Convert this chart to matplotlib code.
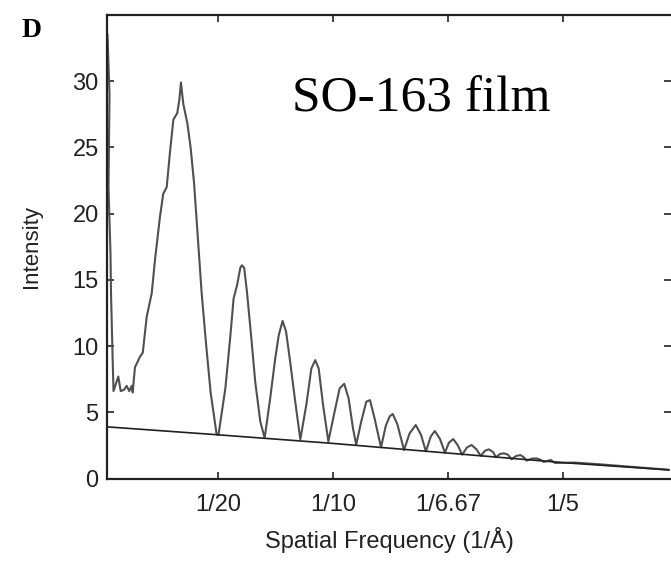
import matplotlib.pyplot as plt

# measured spectrum (spatial frequency in 1/A, intensity)
freq = [0.00196, 0.00283, 0.00239, 0.00326, 0.00348, 0.00413, 0.00457,
        0.00665, 0.0077, 0.00913, 0.0103, 0.0114, 0.0125, 0.0129,
        0.0139, 0.0161, 0.0173, 0.0190, 0.0212, 0.0226, 0.0248, 0.0262,
        0.0277, 0.0291, 0.0306, 0.0323, 0.0332, 0.0339, 0.0349, 0.0367,
        0.0381, 0.0396, 0.0410, 0.0429, 0.0448, 0.0468, 0.0494, 0.0502,
        0.0532, 0.0553, 0.0568, 0.0583, 0.0597, 0.0604, 0.0614, 0.0626,
        0.0645, 0.0662, 0.0684, 0.0703,
        0.0727, 0.0749, 0.0764, 0.0781, 0.0796, 0.0814, 0.0836, 0.0858,
        0.0884, 0.0906, 0.0923, 0.0938, 0.0957, 0.0980,
        0.1007, 0.1029, 0.1049, 0.1068, 0.1087, 0.1101,
        0.1123, 0.1145, 0.1161, 0.1181, 0.1209,
        0.1230, 0.1247, 0.1260, 0.1280, 0.1309,
        0.1333, 0.1360, 0.1383, 0.1404,
        0.1426, 0.1443, 0.1465, 0.1487,
        0.1504, 0.1523, 0.1543, 0.1562,
        0.1583, 0.1603, 0.1624, 0.1643,
        0.1661, 0.1678, 0.1696, 0.1709,
        0.1726, 0.1743, 0.1761, 0.1777,
        0.1796, 0.1816, 0.1830, 0.1842,
        0.1865, 0.1886, 0.1904, 0.1917,
        0.1947, 0.1965, 0.2052, 0.2161, 0.2300, 0.2460]
intensity = [33.5, 29.0, 22.0, 17.0, 14.0, 9.5, 6.6,
             7.7, 6.6, 6.7, 7.0, 6.6, 7.0, 6.5,
             8.4, 9.2, 9.5, 12.2, 14.0, 16.5, 19.8, 21.5,
             22.0, 24.6, 27.1, 27.6, 28.6, 29.9, 28.3, 26.8,
             25.0, 22.3, 18.8, 14.0, 10.2, 6.5, 3.35, 3.28,
             6.8, 10.6, 13.6, 14.6, 15.9, 16.1, 15.9, 14.1,
             10.6, 7.3, 4.3, 3.05,
             6.05, 9.07, 10.8, 11.9, 11.1, 8.8, 5.8, 2.95,
             5.55, 8.3, 8.94, 8.3, 5.55, 2.8,
             5.04, 6.8, 7.15, 6.05, 3.8, 2.55,
             4.3, 5.8, 5.92, 4.54, 2.35,
             4.0, 4.7, 4.87, 4.1, 2.15,
             3.4, 4.04, 3.3, 2.05,
             3.2, 3.58, 3.0, 1.95,
             2.7, 2.98, 2.5, 1.8,
             2.35, 2.53, 2.2, 1.7,
             2.1, 2.2, 2.0, 1.6,
             1.85, 1.9, 1.8, 1.45,
             1.7, 1.77, 1.6, 1.35,
             1.5, 1.52, 1.4, 1.25,
             1.4, 1.18, 1.2, 1.07, 0.88, 0.66]

# background fit line
base_freq = [0.0017, 0.05, 0.1, 0.15, 0.2, 0.246]
base_int = [3.9, 3.3, 2.65, 1.92, 1.2, 0.65]

tick_pos = [0.05, 0.1, 0.15, 0.2]
tick_labels = ['1/20', '1/10', '1/6.67', '1/5']

plt.rcParams['font.family'] = ['Liberation Sans', 'DejaVu Sans']

fig = plt.figure(figsize=(6.71, 5.69), dpi=100)
ax = fig.add_axes([107 / 671, 1 - 478.5 / 569, 1 - 107 / 671, 463.5 / 569])

ax.plot(freq, intensity, color='#505050', lw=1.5, solid_joinstyle='round')
ax.plot(base_freq, base_int, color='#202020', lw=1.2)

ax.set_xlim(0.00174, 0.247)
ax.set_ylim(0, 35)
ax.set_xticks(tick_pos)
ax.set_xticklabels(tick_labels)
ax.set_yticks([0, 5, 10, 15, 20, 25, 30])

ax.tick_params(direction='in', length=5, width=1.2, top=True, right=True,
               labelsize=17, colors='#222222')
ax.tick_params(axis='x', pad=11)
ax.tick_params(axis='y', pad=6)
for side in ['left', 'bottom', 'top']:
    ax.spines[side].set_linewidth(1.6)
    ax.spines[side].set_color('#222222')
ax.spines['right'].set_visible(False)

ax.set_ylabel('Intensity', fontsize=16, labelpad=22, color='#222222')
ax.set_xlabel('Spatial Frequency (1/Å)', fontsize=17, labelpad=8, color='#222222')

ax.text((292 - 107) / 564, (478.5 - 112) / 463.5, 'SO-163 film',
        transform=ax.transAxes, family='Liberation Serif', fontsize=37,
        ha='left', va='baseline')
fig.text(22 / 671, 1 - 37 / 569, 'D', family='Liberation Serif',
         fontweight='bold', fontsize=20, ha='left', va='baseline')

plt.savefig('out.png', dpi=100)
